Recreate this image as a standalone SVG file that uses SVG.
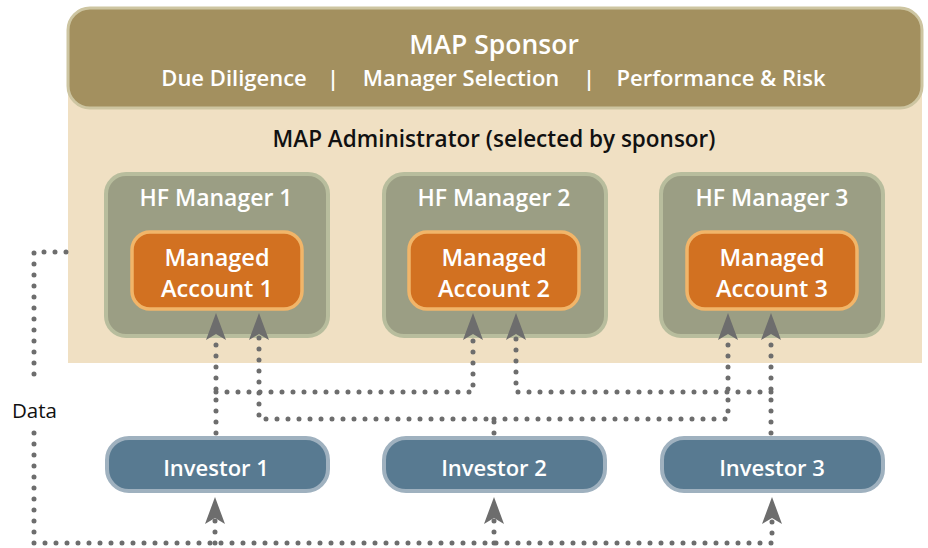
<svg xmlns="http://www.w3.org/2000/svg" width="928" height="548" viewBox="0 0 928 548">
<style>
.t{font-family:"Open Sans",Lato,"DejaVu Sans",sans-serif;font-weight:600;text-anchor:middle}
.w{fill:#ffffff}
.mgr{fill:#9b9e84;stroke:#b8bd9d;stroke-width:4}
.ma{fill:#d27121;stroke:#f1b569;stroke-width:3.5}
.inv{fill:#587a91;stroke:#9fb1bf;stroke-width:4}
.c{fill:none;stroke:#6d6d6d;stroke-width:5;stroke-linecap:round;stroke-dasharray:0 11}
</style>
<defs>
<marker id="ah" markerUnits="userSpaceOnUse" viewBox="-1 -11 30 22" markerWidth="30" markerHeight="22" refX="4" refY="0" orient="auto">
<path d="M0,-10 L27,0 L0,10 L6,0 Z" fill="#6d6d6d"/>
</marker>
</defs>
<g id="administrator">
<rect x="68" y="50" width="854" height="313" fill="#f0e0c3"/>
<text class="t" x="494" y="147" font-size="22.5" fill="#111">MAP Administrator (selected by sponsor)</text>
</g>
<g id="sponsor">
<rect x="68" y="8" width="854" height="100" rx="22" fill="#a3905f" stroke="#cdc5a1" stroke-width="3"/>
<text class="t w" x="494" y="54" font-size="26.5">MAP Sponsor</text>
<text class="t w" x="234" y="86" font-size="22">Due Diligence</text>
<text class="t w" x="333" y="86" font-size="22">|</text>
<text class="t w" x="461" y="86" font-size="22">Manager Selection</text>
<text class="t w" x="589" y="86" font-size="22">|</text>
<text class="t w" x="721" y="86" font-size="22">Performance &amp; Risk</text>
</g>
<g id="hf1">
<rect class="mgr" x="106" y="174" width="222" height="162" rx="20"/>
<text class="t w" x="216" y="206" font-size="23">HF Manager 1</text>
</g>
<g id="hf2">
<rect class="mgr" x="384" y="174" width="222" height="162" rx="20"/>
<text class="t w" x="494" y="206" font-size="23">HF Manager 2</text>
</g>
<g id="hf3">
<rect class="mgr" x="661" y="174" width="222" height="162" rx="20"/>
<text class="t w" x="772" y="206" font-size="23">HF Manager 3</text>
</g>
<g id="ma1">
<rect class="ma" x="132" y="232" width="170" height="77" rx="18"/>
<text class="t w" x="217" y="266" font-size="23.5">Managed</text>
<text class="t w" x="217" y="297" font-size="23.5">Account 1</text>
</g>
<g id="ma2">
<rect class="ma" x="409" y="232" width="170" height="77" rx="18"/>
<text class="t w" x="494" y="266" font-size="23.5">Managed</text>
<text class="t w" x="494" y="297" font-size="23.5">Account 2</text>
</g>
<g id="ma3">
<rect class="ma" x="687" y="232" width="170" height="77" rx="18"/>
<text class="t w" x="772" y="266" font-size="23.5">Managed</text>
<text class="t w" x="772" y="297" font-size="23.5">Account 3</text>
</g>
<g id="inv1">
<rect class="inv" x="107" y="438" width="221" height="53" rx="22"/>
<text class="t w" x="216" y="476" font-size="22">Investor 1</text>
</g>
<g id="inv2">
<rect class="inv" x="384" y="438" width="221" height="53" rx="22"/>
<text class="t w" x="494" y="476" font-size="22">Investor 2</text>
</g>
<g id="inv3">
<rect class="inv" x="662" y="438" width="221" height="53" rx="22"/>
<text class="t w" x="772" y="476" font-size="22">Investor 3</text>
</g>
<g id="data-label">
<text x="12" y="418" font-family="'Open Sans',Lato,sans-serif" font-size="20.5" fill="#111">Data</text>
</g>
<g id="connectors">
<path class="c" d="M216,433 V336" marker-end="url(#ah)"/>
<path class="c" d="M216,392 H473 V336" marker-end="url(#ah)"/>
<path class="c" d="M494,433 V419 H259 V336" marker-end="url(#ah)"/>
<path class="c" d="M494,419 H728 V336" marker-end="url(#ah)"/>
<path class="c" d="M771,433 V336" marker-end="url(#ah)"/>
<path class="c" d="M771,392 H516 V336" marker-end="url(#ah)"/>
<path class="c" d="M66,252 H34 V378"/>
<path class="c" d="M34,433 V543 H772 V520" marker-end="url(#ah)"/>
<path class="c" d="M215,543 V520" marker-end="url(#ah)"/>
<path class="c" d="M494,543 V520" marker-end="url(#ah)"/>
</g>
</svg>
